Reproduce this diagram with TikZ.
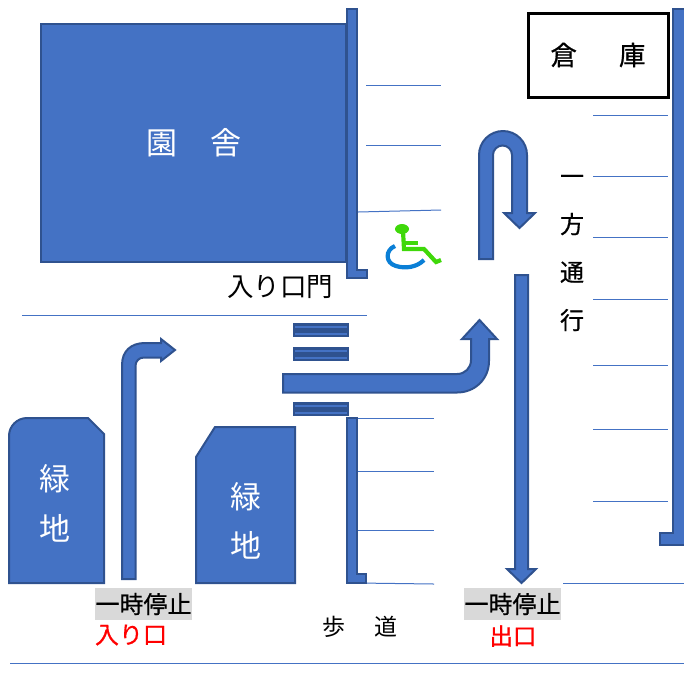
\documentclass[tikz,border=0pt]{standalone}
\usepackage{fontspec}
\setmainfont{Noto Sans CJK JP}
\newfontfamily\boldish[FakeBold=0.6]{Noto Sans CJK JP}
\definecolor{bluefill}{HTML}{4472C4}
\definecolor{blueedge}{HTML}{2F528F}
\definecolor{stopgrey}{HTML}{D9D9D9}
\definecolor{chairgreen}{HTML}{3FD80A}
\definecolor{chairblue}{HTML}{0A7FD6}
\tikzset{
  shapeblue/.style={fill=bluefill,draw=blueedge,line width=2pt,line join=miter},
  thinline/.style={draw=bluefill,line width=1pt},
  whitetext/.style={text=white,inner sep=0pt,font=\fontsize{#1}{#1}\selectfont},
  blacktext/.style={text=black,inner sep=0pt,font=\fontsize{#1}{#1}\selectfont},
  redtext/.style={text=red,inner sep=0pt,font=\boldish\fontsize{#1}{#1}\selectfont},
  stoptag/.style={fill=stopgrey,text=black,inner sep=0pt,text width=97pt,align=center,minimum height=32pt,font=\boldish\fontsize{24}{24}\selectfont},
}
\begin{document}
\begin{tikzpicture}[x=1pt,y=-1pt]
\useasboundingbox (0,0) rectangle (684,673);
% thin lines
\foreach \ya/\yb/\xa/\xb in {85.5/85.5/366/441,145.5/145.5/366/441,212/210/358/441,
  115/115/593/668,176/176/593/668,237/237/593/668,299/299/593/668,365/365/593/668,429/429/593/668,501/501/593/668,
  418/418/358/434,471/471/358/434,530/530/358/434,583/584/358/434,
  583/583/563/684,663/663/10/684,315.5/315.5/22/367}
  {\draw[thinline] (\xa,\ya) -- (\xb,\yb);}
% building
\draw[shapeblue] (41,24) rectangle (346,262);
\node[whitetext=31] (sha) at (194,143) {園\hspace{33pt}舎};
% walls
\draw[shapeblue] (347,9) -- (357,9) -- (357,270) -- (367,270) -- (367,278) -- (347,278) -- cycle;
\draw[shapeblue] (347,418) -- (357,418) -- (357,574) -- (366,574) -- (366,583) -- (347,583) -- cycle;
\draw[shapeblue] (673,9) -- (686,9) -- (686,545) -- (660,545) -- (660,533) -- (673,533) -- cycle;
% warehouse
\node[draw=black,line width=3pt,fill=white,minimum width=140pt,minimum height=84pt,inner sep=0pt,
  font=\boldish\fontsize{26.5}{26.5}\selectfont] (soko) at (598,55) {倉\hspace{42pt}庫\hspace{4pt}};
% stop bars
\foreach \y in {323,347,402}{
  \fill[blueedge] (293,\y) rectangle (349,\y+14);
  \fill[bluefill] (295,\y+3) rectangle (347,\y+5);
  \fill[bluefill] (295,\y+10) rectangle (347,\y+12);
}
% green areas
\draw[shapeblue] (9,583) -- (9,436) arc[start angle=180,end angle=90,x radius=18,y radius=-18] -- (88,418) -- (104,434) -- (104,583) -- cycle;
\draw[shapeblue] (196,583) -- (196,457) -- (215,427) -- (295,427) -- (295,583) -- cycle;
\node[whitetext=31] (ryoku1) at (55,479) {緑};
\node[whitetext=31] (chi1) at (55,528) {地};
\node[whitetext=31] (ryoku2) at (246,497) {緑};
\node[whitetext=31] (chi2) at (246,545) {地};
% bent entry arrow
\draw[shapeblue] (122,579) -- (122,365) .. controls (122,351) and (131,343) .. (145,343) -- (161,343) -- (161,339) -- (175,350) -- (161,361) -- (161,357.5) -- (144,357.5) .. controls (139,357.5) and (135.5,361) .. (135.5,366) -- (135.5,579) -- cycle;
% u-turn arrow
\draw[shapeblue] (479,259) -- (479,155) arc[start angle=180,end angle=0,x radius=24,y radius=-24] -- (527,213) -- (535,213) -- (519.5,228) -- (504,213) -- (512,213) -- (512,155) arc[start angle=0,end angle=180,x radius=9.5,y radius=-9.5] -- (493,259) -- cycle;
% exit arrow
\draw[shapeblue] (515,275) -- (528,275) -- (528,569) -- (536,569) -- (521.5,583) -- (507,569) -- (515,569) -- cycle;
% main entry arrow
\draw[shapeblue] (283,374) -- (457,374) .. controls (465,374) and (471,368) .. (471,360) -- (471,339) -- (462,339) -- (479.5,320) -- (497,339) -- (489,339) -- (489,361) .. controls (489,379) and (475,392.5) .. (457,392.5) -- (283,392.5) -- cycle;
% wheelchair
\draw[chairblue,line width=4.2pt] (395,246) .. controls (385,250) and (385,263) .. (396,266) .. controls (406,269) and (417,267) .. (424,260);
\fill[chairgreen] (402,229) ellipse[x radius=7,y radius=5];
\draw[chairgreen,line width=4.2pt,line join=miter] (403,231) -- (404,249) -- (424,249) -- (436,262) -- (441,260);
\draw[chairgreen,line width=4pt] (404,243) -- (418,243);
% labels
\node[blacktext=26.5] (mon) at (280,287) {入り口門};
\node[blacktext=24,align=center,font=\boldish\fontsize{24}{48}\selectfont] (oneway) at (572,253) {一\\方\\通\\行};
\node[stoptag] (stop1) at (143.5,604) {一時停止};
\node[stoptag] (stop2) at (512.5,604) {一時停止};
\node[redtext=24] (iri) at (131,635) {入り口};
\node[redtext=23.5] (de) at (513,636) {出口};
\node[blacktext=23] (hodo) at (360,627) {歩\hspace{29pt}道};
\end{tikzpicture}
\end{document}
